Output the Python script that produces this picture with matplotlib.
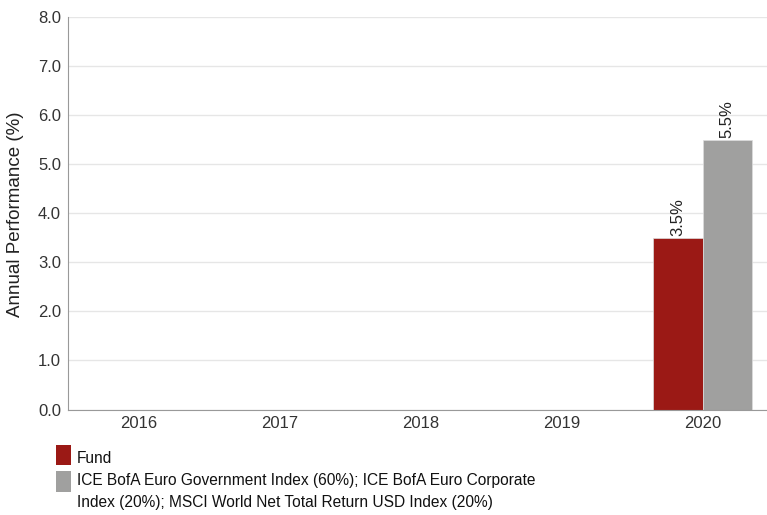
import matplotlib
matplotlib.use("Agg")
import matplotlib.pyplot as plt
from matplotlib.patches import Rectangle
import numpy as np

plt.rcParams['font.family'] = ['Liberation Sans', 'DejaVu Sans']

years = ["2016", "2017", "2018", "2019", "2020"]
fund = [np.nan, np.nan, np.nan, np.nan, 3.5]
index = [np.nan, np.nan, np.nan, np.nan, 5.5]
series_names = ["Fund",
                "ICE BofA Euro Government Index (60%); ICE BofA Euro Corporate",
                "Index (20%); MSCI World Net Total Return USD Index (20%)"]
colors = ["#9b1915", "#a0a09f"]
yticks = [0, 1, 2, 3, 4, 5, 6, 7, 8]

W, H = 767, 515
fig = plt.figure(figsize=(W/100, H/100), dpi=100)
ax = fig.add_axes([68/W, 1-409.5/H, 705/W, 392.5/H])

x = np.arange(len(years))
w = 0.35
b1 = ax.bar(x - w/2, fund, w, color=colors[0], edgecolor="#dddddd", linewidth=0.5)
b2 = ax.bar(x + w/2, index, w, color=colors[1], edgecolor="#dddddd", linewidth=0.5)

for bars, vals in ((b1, fund), (b2, index)):
    for rect, v in zip(bars, vals):
        if not np.isnan(v):
            ax.text(rect.get_x() + rect.get_width()/2, v + 0.03, f"{v:.1f}%",
                    rotation=90, ha="center", va="bottom", fontsize=12, color="#222222")

ax.set_xlim(-0.5, 4.5)
ax.set_ylim(0, 8)
ax.set_yticks(yticks)
ax.set_yticklabels([f"{t:.1f}" for t in yticks])
ax.set_xticks(x)
ax.set_xticklabels(years)
ax.tick_params(axis="both", length=0, labelsize=12, colors="#333333")
ax.tick_params(axis="y", pad=5)
ax.tick_params(axis="x", pad=5)
ax.grid(axis="y", color="#e6e6e6", linewidth=1)
ax.set_axisbelow(True)
for s in ("top", "right"):
    ax.spines[s].set_visible(False)
for s in ("left", "bottom"):
    ax.spines[s].set_color("#999999")

fig.text(16/W, 1-214.5/H, "Annual Performance (%)", rotation=90, ha="center", va="center",
         fontsize=13.5, color="#222222")

# legend
fig.add_artist(Rectangle((56/W, 1-465/H), 15/W, 20/H, transform=fig.transFigure,
                         facecolor=colors[0], edgecolor="none"))
fig.add_artist(Rectangle((56/W, 1-491.5/H), 15/W, 20.5/H, transform=fig.transFigure,
                         facecolor=colors[1], edgecolor="none"))
for txt, yb in zip(series_names, (463, 485.5, 507.5)):
    fig.text(77/W, 1-yb/H, txt, ha="left", va="baseline",
             fontsize=11.2, color="#111111")

fig.savefig("out.png", dpi=100)
